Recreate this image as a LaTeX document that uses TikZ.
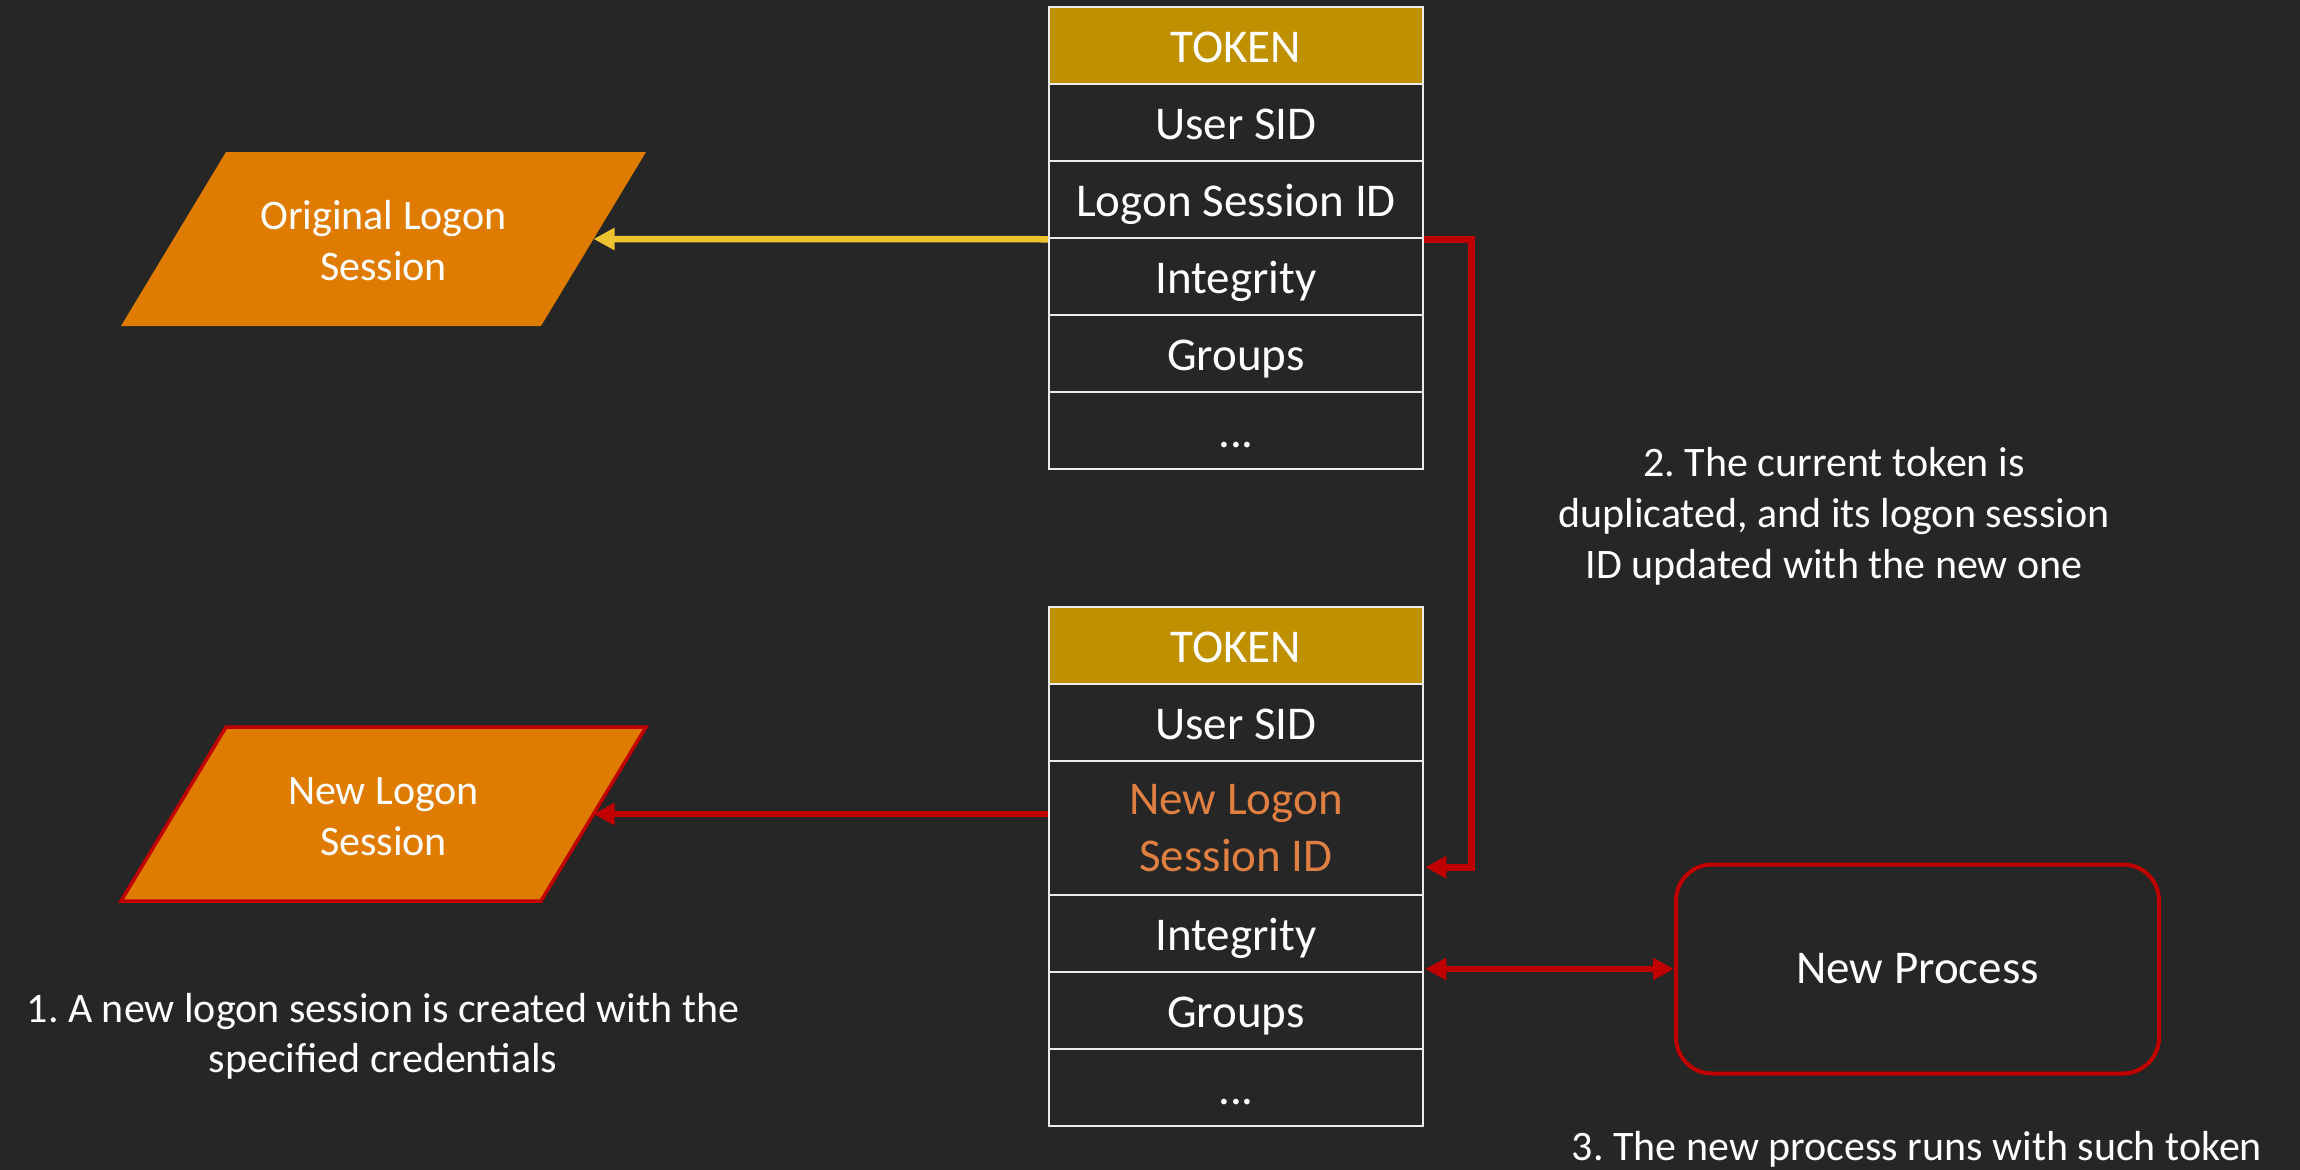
\documentclass[tikz,border=0pt]{standalone}
\usepackage{fontspec}
\setmainfont{Carlito}
\frenchspacing
\usetikzlibrary{arrows.meta,calc}
\definecolor{bg}{HTML}{262626}
\definecolor{tokengold}{HTML}{BF9000}
\definecolor{sessorange}{HTML}{DF7C00}
\definecolor{linkred}{HTML}{C00000}
\definecolor{linkyellow}{HTML}{EEC330}
\definecolor{newidorange}{HTML}{DF7F41}
\definecolor{cellline}{HTML}{EBEBEB}
\begin{document}
\begin{tikzpicture}[x=1pt,y=-1pt,
  cellbase/.style={draw=cellline, line width=2.5pt, fill=bg, minimum width=374pt,
    minimum height=77pt, inner sep=0pt, text=white, font=\fontsize{47}{57}\selectfont},
  cell/.style={cellbase, text height=33pt, text depth=0pt},
  headcell/.style={cell, fill=tokengold},
  sessshape/.style={fill=sessorange},
  sesstext/.style={text=white, align=center, inner sep=0pt, font=\fontsize{42}{51}\selectfont},
  noteline/.style={text=white, anchor=base, inner sep=0pt, font=\fontsize{42}{51}\selectfont},
  redlink/.style={draw=linkred, line width=6.5pt, -{Triangle[length=21pt,width=21pt]}},
  yellowlink/.style={draw=linkyellow, line width=6.5pt, -{Triangle[length=21pt,width=21pt]}},
  procbox/.style={draw=linkred, line width=4pt, rounded corners=36pt, minimum width=483pt,
    minimum height=209pt, inner sep=0pt, text=white, font=\fontsize{47}{57}\selectfont}
]
% background and page frame
\fill[bg] (0,0) rectangle (2300,1170);
\useasboundingbox (0,0) rectangle (2300,1170);

% current token
\node[headcell] (ttoken) at (1236,45.5) {TOKEN};
\node[cell] (tuser) at (1236,122.5) {User SID};
\node[cell] (tlogon) at (1236,199.5) {Logon Session ID};
\node[cell] (tint) at (1236,276.5) {Integrity};
\node[cell] (tgroups) at (1236,353.5) {Groups};
\node[cell] (tmore) at (1236,430.5) {...};

% duplicated token
\node[headcell] (btoken) at (1236,645.5) {TOKEN};
\node[cell] (buser) at (1236,722.5) {User SID};
\node[cellbase, minimum height=134pt, text=newidorange, align=center] (bnewid) at (1236,828) {New Logon\\Session ID};
\node[cell] (bint) at (1236,933.5) {Integrity};
\node[cell] (bgroups) at (1236,1010.5) {Groups};
\node[cell] (bmore) at (1236,1087.5) {...};

% logon sessions
\path[sessshape] (226,152) -- (646,152) -- (541,326) -- (121,326) -- cycle;
\node[sesstext] (origsess) at (383.5,240.5) {Original Logon\\Session};
\coordinate (origR) at (593.5,239);

\path[sessshape, draw=linkred, line width=3.5pt] (226,727) -- (646,727) -- (541,901) -- (121,901) -- cycle;
\node[sesstext] (newsess) at (383.5,816.5) {New Logon\\Session};
\coordinate (newR) at (593.5,814);

% new process
\node[procbox] (proc) at (1917.5,969) {New Process};

% connectors
\draw[yellowlink] (tlogon.south west) -- (origR);
\draw[redlink] (newR -| bnewid.west) -- (newR);
\draw[redlink] (tlogon.south east) -- ++(47,0) |- ($(bnewid.south east)+(1,-29)$);
\draw[redlink, {Triangle[length=21pt,width=21pt]}-{Triangle[length=21pt,width=21pt]}]
  ($(bint.east |- proc.west)+(1,0)$) -- (proc.west);

% step notes
\node[noteline] (note1a) at (383,1022) {1. A new logon session is created with the};
\node[noteline] (note1b) at (383,1072) {specified credentials};
\node[noteline] (note2a) at (1834,476) {2. The current token is};
\node[noteline] (note2b) at (1834,527) {duplicated, and its logon session};
\node[noteline] (note2c) at (1834,578) {ID updated with the new one};
\node[noteline] (note3) at (1917,1160) {3. The new process runs with such token};
\end{tikzpicture}
\end{document}
